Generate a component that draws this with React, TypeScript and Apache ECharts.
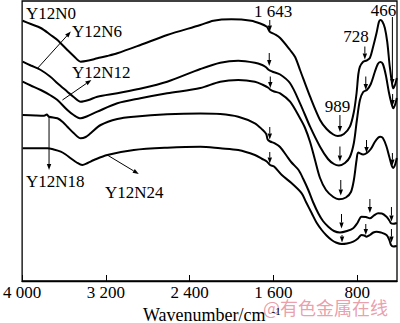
import React, { useEffect, useRef } from 'react';
import * as echarts from 'echarts';

// x: wavenumber (cm^-1), y: relative transmittance position (plot units, larger = lower)
const tickValues = [4000, 3200, 2400, 1600, 800];

const y12n0 = [
  [3995, 20.7], [3917, 24], [3822, 28], [3727, 35], [3663, 40], [3568, 50], [3508, 56], [3441, 61.7],
  [3365, 60.5], [3282, 58.3], [3187, 56], [3091, 53.3], [2870, 45], [2615, 35], [2298, 25], [2174, 20.7],
  [2002, 19.3], [1812, 20.7], [1726, 23.5], [1663, 26.7], [1645, 30], [1632, 32], [1584, 34.5], [1536, 38],
  [1441, 50], [1393, 57], [1346, 70], [1250, 96.7], [1155, 120], [1092, 129], [1028, 134.5], [985, 136],
  [927, 134], [870, 126.7], [832, 112], [806, 93], [789, 74], [774, 66.7], [743, 61.7], [711, 60.5],
  [679, 58], [651, 48], [616, 33.3], [593, 22], [579, 20], [560, 21.5], [536, 28], [513, 42], [489, 66.7],
  [465, 85], [455, 88.3], [436, 84], [422, 78],
];

const y12n6 = [
  [3995, 61.7], [3917, 65.5], [3822, 70], [3727, 77], [3663, 83.3], [3568, 91.7], [3508, 97], [3441, 101.7],
  [3365, 100], [3282, 96.7], [3091, 93.3], [2901, 89.3], [2615, 81.7], [2298, 69], [2108, 62.7], [1936, 60.7],
  [1777, 62.7], [1707, 65], [1674, 67], [1643, 70], [1613, 71.5], [1536, 74.5], [1441, 83.3], [1346, 103.3],
  [1250, 126.7], [1155, 146.7], [1079, 159], [1022, 164], [975, 165.5], [917, 163], [870, 157], [832, 143],
  [803, 120], [774, 100], [743, 92], [708, 90], [670, 84], [632, 72], [603, 64], [579, 62], [555, 64],
  [527, 75], [498, 92], [474, 103], [455, 108.3], [436, 104], [422, 98],
];

const y12n12 = [
  [3995, 81.7], [3917, 85.5], [3822, 90], [3727, 95.5], [3663, 100], [3568, 110], [3508, 115], [3441, 118.3],
  [3384, 116.5], [3282, 111.7], [3091, 103.3], [2870, 98.3], [2615, 93.3], [2298, 88], [2108, 81.7], [1936, 80],
  [1777, 81.7], [1698, 85], [1645, 88], [1632, 89.5], [1594, 91.5], [1536, 93.3], [1441, 101.7], [1346, 118.3],
  [1298, 128], [1250, 142], [1203, 160], [1155, 178], [1098, 190], [1028, 197], [975, 199.3], [908, 197.5],
  [860, 192], [832, 180], [806, 160], [790, 152.5], [743, 154.5], [708, 153], [670, 149], [632, 142],
  [598, 137.5], [579, 136.7], [555, 138], [522, 146], [493, 157], [469, 166], [455, 168], [436, 164], [422, 158],
];

const y12n18 = [
  [3995, 115], [3870, 115.5], [3790, 115.7], [3765, 114.5], [3743, 116.7], [3663, 118.3], [3612, 122],
  [3568, 126.7], [3508, 133], [3441, 138.3], [3393, 137], [3346, 133.3], [3250, 125], [3091, 119], [2933, 116.7],
  [2615, 114.3], [2298, 113.5], [2108, 114], [1936, 116.7], [1777, 123.3], [1707, 129.5], [1669, 134],
  [1655, 139.5], [1631, 141.5], [1587, 143.3], [1537, 147], [1476, 155.5], [1431, 162], [1360, 170],
  [1315, 179], [1267, 190], [1222, 202], [1172, 213.3], [1127, 221], [1076, 226.7], [1022, 231], [965, 232.5],
  [898, 231], [838, 228.3], [798, 223], [759, 216.7], [717, 217], [679, 218.3], [641, 215.5], [600, 213.3],
  [565, 213.5], [520, 216.7], [493, 220.5], [477, 223.3], [455, 223.8], [422, 223],
];

const y12n24 = [
  [3995, 148.3], [3870, 148.3], [3758, 148.3], [3698, 149.5], [3631, 151.7], [3584, 154.5], [3536, 158.3],
  [3479, 162.5], [3425, 165], [3374, 163], [3314, 160], [3187, 155], [2933, 150], [2615, 147.7], [2298, 146.7],
  [2108, 148.3], [1936, 150], [1777, 155], [1707, 159], [1664, 161.5], [1632, 165], [1594, 166.5], [1520, 175],
  [1425, 183.3], [1330, 193.3], [1289, 202], [1234, 213.3], [1189, 222.5], [1139, 230], [1093, 235.5],
  [1044, 240], [1003, 242.5], [949, 244], [898, 243.5], [838, 241.7], [793, 238.5], [759, 235], [732, 235.5],
  [711, 236.7], [679, 235], [646, 232.5], [616, 231.7], [574, 232.5], [520, 235], [493, 240], [477, 245],
  [455, 246.5], [422, 246],
];

const seriesList = [y12n0, y12n6, y12n12, y12n18, y12n24];

// arrows in data coordinates: [wTail, yTail, wHead, yHead]
const arrows = [
  [3853, 68.3, 3535, 31.5],
  [3615, 100, 3339, 80],
  [3743, 116, 3743, 170],
  [3187, 155, 2886, 174],
  [1635, 20, 1635, 31.5], [1640, 53, 1640, 66], [1630, 76.5, 1630, 88], [1635, 127, 1635, 139.5], [1635, 152, 1635, 163.5],
  [727, 46.5, 727, 59.5], [718, 76.5, 718, 90], [711, 140, 711, 153], [679, 199, 679, 213], [718, 224, 718, 235],
  [965, 115, 965, 132], [965, 146.5, 965, 161.5], [957, 180, 957, 195.5], [950, 214, 950, 228.5], [945, 235, 945, 242.5],
  [464, 17, 464, 85], [462, 94, 462, 106], [464, 153, 464, 165.5], [473, 207, 473, 221.5], [473, 229, 473, 242.5],
];

const serif = '"Liberation Serif", "Times New Roman", serif';

const fmt = (v: number) =>
  v >= 1000 ? `${Math.floor(v / 1000)} ${String(v % 1000).padStart(3, '0')}` : String(v);

export default function App() {
  const ref = useRef<HTMLDivElement>(null);
  useEffect(() => {
    const chart = echarts.init(ref.current!, null, { renderer: 'svg' });
    chart.setOption({
      animation: false,
      backgroundColor: '#fff',
      grid: { left: 21, right: 3, top: 1, bottom: 42, show: true, borderColor: '#000', borderWidth: 1.3 },
      xAxis: {
        type: 'value',
        inverse: true,
        min: 420,
        max: 4000,
        axisLine: { show: true, lineStyle: { color: '#000', width: 1.3 } },
        axisTick: { show: true, inside: true, length: 6, customValues: tickValues, lineStyle: { color: '#000', width: 1 } },
        axisLabel: {
          customValues: tickValues,
          formatter: (v: number) => fmt(v),
          color: '#000',
          fontFamily: serif,
          fontSize: 17,
          margin: 3,
        },
        splitLine: { show: false },
      },
      yAxis: {
        type: 'value',
        inverse: true,
        min: 1,
        max: 281,
        show: false,
        splitLine: { show: false },
      },
      series: seriesList.map((d) => ({
        type: 'line',
        data: d,
        symbol: 'none',
        smooth: 0.3,
        lineStyle: { color: '#000', width: 2 },
        silent: true,
      })),
    });

    const toPx = (w: number, y: number) => chart.convertToPixel({ gridIndex: 0 }, [w, y]) as number[];
    const g: any[] = [];
    arrows.forEach(([w1, y1, w2, y2]) => {
      const [x1, py1] = toPx(w1, y1);
      const [x2, py2] = toPx(w2, y2);
      const dx = x2 - x1, dy = py2 - py1;
      const len = Math.hypot(dx, dy);
      const ux = dx / len, uy = dy / len;
      const L = 6, W = 2.2;
      const bx = x2 - ux * L, by = py2 - uy * L;
      g.push({ type: 'line', shape: { x1, y1: py1, x2: bx, y2: by }, style: { stroke: '#000', lineWidth: 1 }, silent: true });
      g.push({
        type: 'polygon',
        shape: { points: [[x2, py2], [bx - uy * W, by + ux * W], [bx + uy * W, by - ux * W]] },
        style: { fill: '#000' },
        silent: true,
      });
    });
    const txt = (text: string, x: number, y: number, align: string, size = 17) =>
      g.push({
        type: 'text', x, y, silent: true,
        style: { text, font: `${size}px ${serif}`, fill: '#000', align, verticalAlign: 'middle' },
      });
    txt('Y12N0', 26, 13);
    txt('Y12N6', 72, 31);
    txt('Y12N12', 72, 72);
    txt('Y12N18', 26, 181);
    txt('Y12N24', 105, 192.5);
    txt('1 643', 273, 11.5, 'center');
    txt('728', 356, 36.5, 'center');
    txt('989', 337.5, 106.5, 'center');
    txt('466', 383.5, 10.5, 'center');
    g.push({
      type: 'text', x: 263, y: 307, silent: true, z: 1,
      style: { text: '@有色金属在线', font: '18px "Noto Sans CJK SC"', fill: 'rgba(222,105,125,0.65)', align: 'left', verticalAlign: 'middle' },
    });
    g.push({
      type: 'text', x: 143, y: 314.5, silent: true, z: 2,
      style: { text: 'Wavenumber/cm', font: `18px ${serif}`, fill: '#000', align: 'left', verticalAlign: 'middle' },
    });
    g.push({
      type: 'text', x: 271.5, y: 310.5, silent: true, z: 2,
      style: { text: '-1', font: `11px ${serif}`, fill: '#000', align: 'left', verticalAlign: 'middle' },
    });
    chart.setOption({ graphic: g });
    return () => chart.dispose();
  }, []);
  return <div ref={ref} style={{ position: 'absolute', left: 0, top: 0, width: 400, height: 323 }} />;
}
